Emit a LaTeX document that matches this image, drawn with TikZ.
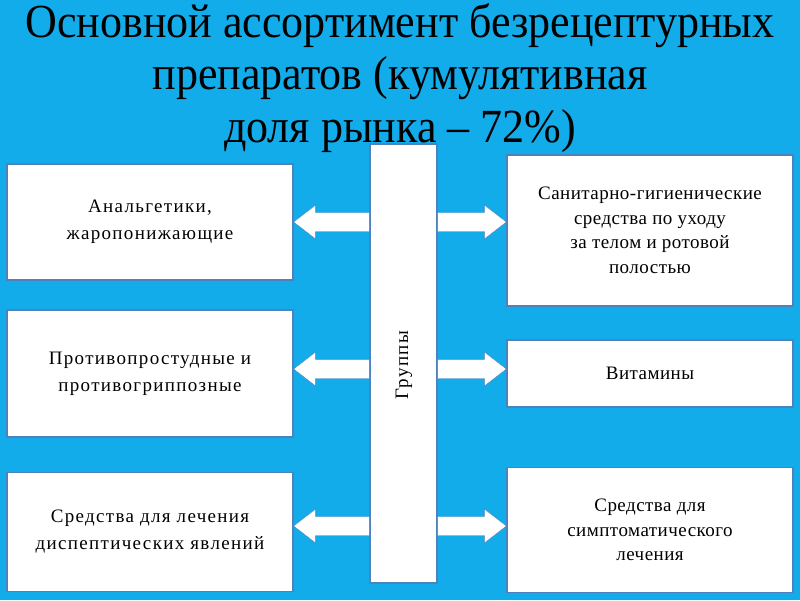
\documentclass[tikz,border=0pt]{standalone}
\usepackage{fontspec}
\setmainfont{Liberation Serif}
\newfontfamily\spacedL[LetterSpace=7]{Liberation Serif}
\newfontfamily\spacedR[LetterSpace=2.5]{Liberation Serif}
\usetikzlibrary{calc}
\definecolor{bgblue}{RGB}{18,172,234}
\definecolor{edgeblue}{RGB}{79,129,189}
\tikzset{
  box/.style={draw=edgeblue, line width=1.2pt, fill=white, inner sep=0pt, align=center},
  lbox/.style={box, font=\spacedL\fontsize{19}{27}\selectfont},
  rbox/.style={box, font=\spacedR\fontsize{19}{24.5}\selectfont},
  arrowshape/.style={fill=white, draw=edgeblue, line width=0.4pt, line join=miter},
}
\newcommand\arrowL[2]{%
  \draw[arrowshape] ($(#1)+(0,-9.5)$) -- ($(#2)+(22,-9.5)$) -- ($(#2)+(22,-17)$) -- (#2)
    -- ($(#2)+(22,17)$) -- ($(#2)+(22,9.5)$) -- ($(#1)+(0,9.5)$) -- cycle;}
\newcommand\arrowR[2]{%
  \draw[arrowshape] ($(#1)+(0,-9.5)$) -- ($(#2)+(-22,-9.5)$) -- ($(#2)+(-22,-17)$) -- (#2)
    -- ($(#2)+(-22,17)$) -- ($(#2)+(-22,9.5)$) -- ($(#1)+(0,9.5)$) -- cycle;}
\begin{document}
\begin{tikzpicture}[x=1pt,y=-1pt]
\fill[bgblue] (0,0) rectangle (800,600);
\useasboundingbox (0,0) rectangle (800,600);

\node[inner sep=0pt, anchor=base] (title) at (400,37)
  {\scalebox{1}[1.08]{\fontsize{44}{49}\selectfont\begin{tabular}[t]{@{}c@{}}Основной ассортимент безрецептурных\\препаратов (кумулятивная\\доля рынка – 72\%)\end{tabular}}};

% central box
\node[box, minimum width=67pt, minimum height=439pt] (G) at (403.5,363.5) {};
\node[rotate=90, font=\spacedL\fontsize{19}{25}\selectfont] (Gt) at (404,365) {Группы};

% left boxes
\node[lbox, minimum width=286pt, minimum height=116pt] (L1) at (150,222)
  {Анальгетики,\\жаропонижающие};
\node[lbox, minimum width=286pt, minimum height=127pt] (L2) at (150,373.5)
  {Противопростудные и\\противогриппозные};
\node[lbox, minimum width=286pt, minimum height=119pt] (L3) at (150,532)
  {Средства для лечения\\диспептических явлений};

% right boxes
\node[rbox, minimum width=286pt, minimum height=151pt] (R1) at (650,230.5)
  {Санитарно-гигиенические\\средства по уходу\\за телом и ротовой\\полостью};
\node[rbox, minimum width=286pt, minimum height=67pt] (R2) at (650,373.5)
  {Витамины};
\node[rbox, minimum width=286pt, minimum height=125pt] (R3) at (650,530)
  {Средства для\\симптоматического\\лечения};

% arrow rows
\coordinate (y1) at (0,222);
\coordinate (y2) at (0,369);
\coordinate (y3) at (0,526);
\coordinate (gl1) at (G.west |- y1); \coordinate (tl1) at (L1.east |- y1);
\coordinate (gl2) at (G.west |- y2); \coordinate (tl2) at (L2.east |- y2);
\coordinate (gl3) at (G.west |- y3); \coordinate (tl3) at (L3.east |- y3);
\coordinate (gr1) at (G.east |- y1); \coordinate (tr1) at (R1.west |- y1);
\coordinate (gr2) at (G.east |- y2); \coordinate (tr2) at (R2.west |- y2);
\coordinate (gr3) at (G.east |- y3); \coordinate (tr3) at (R3.west |- y3);
\arrowL{gl1}{tl1}
\arrowL{gl2}{tl2}
\arrowL{gl3}{tl3}
\arrowR{gr1}{tr1}
\arrowR{gr2}{tr2}
\arrowR{gr3}{tr3}
\end{tikzpicture}
\end{document}
